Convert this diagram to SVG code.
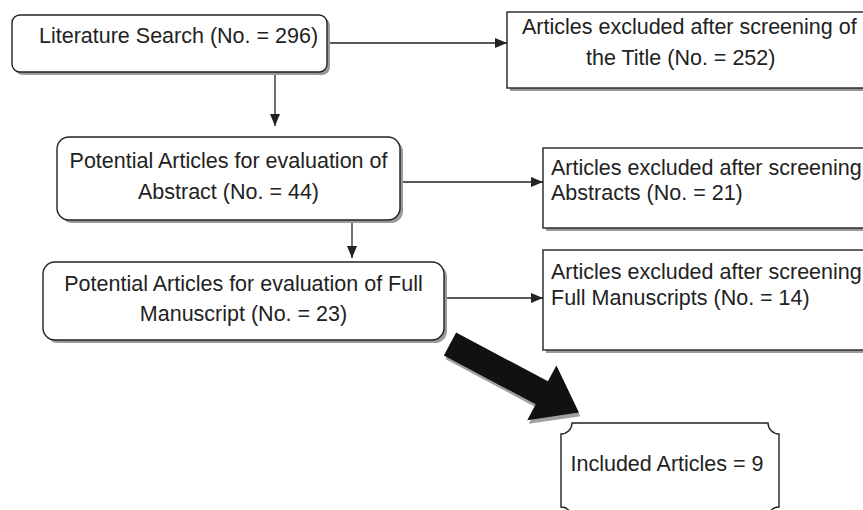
<svg xmlns="http://www.w3.org/2000/svg" width="863" height="510" viewBox="0 0 863 510">
  <defs>
    <style>
      .box { fill: #ffffff; stroke: #222222; stroke-width: 1.4; }
      .shadow { fill: #9a9a9a; stroke: none; }
      .label { font-family: "Liberation Sans", Arial, sans-serif; font-size: 21.5px; fill: #222222; }
      .link { stroke: #222222; stroke-width: 1.3; fill: none; }
    </style>
    <marker id="head" viewBox="0 0 12 10" refX="12" refY="5" markerWidth="12" markerHeight="10" markerUnits="userSpaceOnUse" orient="auto">
      <path d="M0,0 L12,5 L0,10 Z" fill="#222222"/>
    </marker>
  </defs>

  <rect width="863" height="510" fill="#ffffff"/>

  <!-- connectors -->
  <g id="connectors">
    <line class="link" x1="327" y1="43" x2="507" y2="43" marker-end="url(#head)"/>
    <line class="link" x1="275" y1="72" x2="275" y2="126" marker-end="url(#head)"/>
    <line class="link" x1="400" y1="182" x2="543" y2="182" marker-end="url(#head)"/>
    <line class="link" x1="352" y1="220" x2="352" y2="258" marker-end="url(#head)"/>
    <line class="link" x1="444" y1="298" x2="543" y2="298" marker-end="url(#head)"/>
    <!-- bold block arrow toward the final result -->
    <g transform="translate(450,344) rotate(28)">
      <polygon points="0,-13 104,-13 104,-31 146,0 104,31 104,13 0,13" fill="#a0a0a0" transform="translate(3,2.5)"/>
      <polygon points="0,-13 104,-13 104,-31 146,0 104,31 104,13 0,13" fill="#111111"/>
    </g>
  </g>

  <!-- stage 1 -->
  <g id="search">
    <rect class="shadow" x="15" y="18" width="315" height="57" rx="8"/>
    <rect class="box" x="12" y="15" width="315" height="57" rx="8"/>
    <text class="label" x="39" y="43">Literature Search (No. = 296)</text>
  </g>

  <g id="excluded-title">
    <rect class="shadow" x="510" y="15" width="360" height="76"/>
    <rect class="box" x="507" y="12" width="360" height="76"/>
    <text class="label" x="522" y="34">Articles excluded after screening of</text>
    <text class="label" x="586" y="65">the Title (No. = 252)</text>
  </g>

  <!-- stage 2 -->
  <g id="abstract">
    <rect class="shadow" x="60" y="140" width="343" height="83" rx="12"/>
    <rect class="box" x="57" y="137" width="343" height="83" rx="12"/>
    <text class="label" x="228.5" y="168" text-anchor="middle">Potential Articles for evaluation of</text>
    <text class="label" x="228.5" y="199" text-anchor="middle">Abstract (No. = 44)</text>
  </g>

  <g id="excluded-abstract">
    <rect class="shadow" x="546" y="151" width="330" height="80"/>
    <rect class="box" x="543" y="148" width="330" height="80"/>
    <text class="label" x="551" y="175">Articles excluded after screening</text>
    <text class="label" x="551" y="200">Abstracts (No. = 21)</text>
  </g>

  <!-- stage 3 -->
  <g id="manuscript">
    <rect class="shadow" x="46" y="265" width="401" height="78" rx="12"/>
    <rect class="box" x="43" y="262" width="401" height="78" rx="12"/>
    <text class="label" x="243.5" y="291" text-anchor="middle">Potential Articles for evaluation of Full</text>
    <text class="label" x="243.5" y="321" text-anchor="middle">Manuscript (No. = 23)</text>
  </g>

  <g id="excluded-manuscript">
    <rect class="shadow" x="546" y="253" width="330" height="100"/>
    <rect class="box" x="543" y="250" width="330" height="100"/>
    <text class="label" x="551" y="279">Articles excluded after screening</text>
    <text class="label" x="551" y="305">Full Manuscripts (No. = 14)</text>
  </g>

  <!-- result plaque with concave corners -->
  <g id="included">
    <path class="box" d="M572,423 L768,423 A11,11 0 0 0 779,434 L779,507 A11,11 0 0 0 768,518 L572,518 A11,11 0 0 0 561,507 L561,434 A11,11 0 0 0 572,423 Z"/>
    <text class="label" x="667" y="471" text-anchor="middle">Included Articles = 9</text>
  </g>
</svg>
